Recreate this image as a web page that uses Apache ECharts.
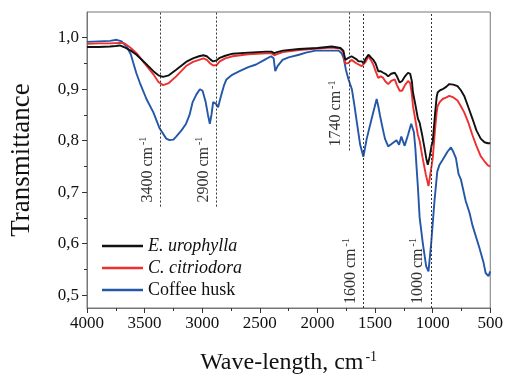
<!DOCTYPE html>
<html>
<head>
<meta charset="utf-8">
<script src="https://cdn.jsdelivr.net/npm/echarts@6/dist/echarts.min.js"></script>
<style>html,body{margin:0;padding:0;background:#fff}#c{width:506px;height:380px}</style>
</head>
<body>
<div id="c"></div>
<script>
const seriesNames = ['E. urophylla', 'C. citriodora', 'Coffee husk'];
const xTicks = [4000, 3500, 3000, 2500, 2000, 1500, 1000, 500];
const yTickLabels = [0.5, 0.6, 0.7, 0.8, 0.9, 1.0];
const yMinorTicks = [0.55, 0.65, 0.75, 0.85, 0.95];

const eUrophylla = [[4000,0.982],[3900,0.982],[3800,0.983],[3750,0.984],[3716,0.985],[3680,0.982],[3620,0.975],[3570,0.967],[3500,0.952],[3424,0.935],[3380,0.927],[3340,0.924],[3290,0.927],[3226,0.938],[3140,0.953],[3080,0.960],[3028,0.964],[2990,0.966],[2960,0.964],[2930,0.958],[2905,0.954],[2875,0.956],[2848,0.961],[2800,0.965],[2736,0.969],[2600,0.971],[2446,0.973],[2400,0.973],[2375,0.970],[2350,0.972],[2300,0.975],[2160,0.978],[2000,0.980],[1876,0.983],[1800,0.980],[1775,0.975],[1758,0.957],[1730,0.961],[1704,0.964],[1687,0.965],[1660,0.958],[1644,0.954],[1615,0.954],[1600,0.950],[1585,0.958],[1558,0.967],[1540,0.963],[1515,0.957],[1495,0.950],[1472,0.935],[1450,0.935],[1429,0.932],[1410,0.930],[1386,0.925],[1360,0.930],[1329,0.932],[1310,0.925],[1286,0.913],[1265,0.916],[1240,0.925],[1214,0.932],[1195,0.930],[1180,0.915],[1171,0.894],[1150,0.870],[1128,0.843],[1113,0.835],[1090,0.810],[1070,0.785],[1055,0.765],[1042,0.753],[1025,0.770],[1010,0.790],[999,0.799],[980,0.850],[965,0.885],[956,0.894],[935,0.898],[913,0.900],[880,0.905],[856,0.910],[820,0.909],[784,0.906],[755,0.898],[726,0.887],[690,0.865],[655,0.843],[620,0.820],[583,0.804],[550,0.797],[520,0.795],[500,0.795]];

const cCitriodora = [[4000,0.988],[3900,0.989],[3800,0.989],[3720,0.990],[3673,0.989],[3620,0.980],[3570,0.970],[3500,0.950],[3424,0.929],[3380,0.914],[3340,0.908],[3290,0.912],[3226,0.925],[3140,0.945],[3080,0.953],[3028,0.957],[2990,0.960],[2960,0.957],[2930,0.950],[2905,0.946],[2875,0.947],[2848,0.954],[2800,0.960],[2736,0.964],[2600,0.968],[2446,0.970],[2400,0.970],[2375,0.966],[2350,0.968],[2300,0.972],[2160,0.976],[2000,0.979],[1876,0.981],[1800,0.979],[1775,0.972],[1758,0.950],[1730,0.951],[1704,0.957],[1687,0.959],[1660,0.950],[1615,0.945],[1600,0.942],[1585,0.952],[1558,0.964],[1540,0.958],[1515,0.948],[1495,0.935],[1472,0.922],[1450,0.925],[1429,0.922],[1410,0.915],[1386,0.910],[1360,0.916],[1329,0.919],[1310,0.908],[1286,0.897],[1265,0.897],[1240,0.908],[1214,0.916],[1195,0.912],[1180,0.890],[1171,0.868],[1150,0.840],[1128,0.811],[1113,0.800],[1090,0.770],[1060,0.735],[1036,0.712],[1020,0.735],[999,0.766],[980,0.820],[965,0.855],[956,0.868],[935,0.876],[913,0.881],[880,0.884],[856,0.887],[820,0.884],[784,0.878],[755,0.867],[726,0.855],[690,0.835],[655,0.811],[620,0.790],[583,0.770],[550,0.760],[520,0.752],[500,0.750]];

const coffeeHusk = [[4000,0.992],[3900,0.993],[3800,0.994],[3742,0.996],[3700,0.993],[3656,0.983],[3620,0.968],[3598,0.951],[3570,0.930],[3542,0.913],[3484,0.881],[3424,0.855],[3370,0.824],[3312,0.804],[3284,0.801],[3250,0.802],[3226,0.808],[3180,0.820],[3140,0.833],[3110,0.850],[3083,0.875],[3050,0.890],[3020,0.900],[2997,0.897],[2970,0.875],[2950,0.850],[2934,0.833],[2920,0.850],[2905,0.875],[2882,0.872],[2862,0.865],[2845,0.880],[2833,0.890],[2810,0.908],[2790,0.919],[2740,0.928],[2676,0.935],[2600,0.943],[2532,0.948],[2460,0.957],[2403,0.964],[2380,0.960],[2366,0.935],[2346,0.945],[2303,0.957],[2250,0.962],[2160,0.967],[2100,0.971],[2016,0.975],[1900,0.975],[1816,0.975],[1790,0.970],[1773,0.961],[1753,0.938],[1730,0.919],[1701,0.900],[1680,0.870],[1658,0.836],[1629,0.792],[1601,0.769],[1572,0.804],[1529,0.843],[1486,0.881],[1470,0.865],[1457,0.849],[1430,0.820],[1414,0.804],[1386,0.789],[1360,0.793],[1343,0.792],[1314,0.801],[1291,0.792],[1272,0.808],[1243,0.790],[1214,0.811],[1186,0.833],[1163,0.817],[1150,0.785],[1140,0.750],[1128,0.710],[1113,0.651],[1085,0.600],[1056,0.556],[1036,0.546],[1013,0.600],[984,0.683],[960,0.740],[941,0.753],[913,0.763],[870,0.779],[841,0.787],[820,0.778],[798,0.766],[775,0.735],[755,0.725],[713,0.683],[680,0.660],[655,0.636],[597,0.594],[560,0.565],[540,0.543],[515,0.537],[500,0.546]];

const annotWave = [3360, 2876, 1727, 1601, 1016];
const annotText = ['3400', '2900', '1740', '1600', '1000'];
const annotBottom = [0.672, 0.672, 0.781, 0.475, 0.475];

const colors = ['#111111', '#ee3030', '#2457a8'];
const FONT = '"Liberation Serif", "Times New Roman", serif';

const chart = echarts.init(document.getElementById('c'), null, {renderer: 'canvas'});

const markData = annotWave.map((w, i) => [
  {coord: [w, annotBottom[i]], label: {formatter: '{a|' + annotText[i] + ' cm}{s|-1}'}},
  {coord: [w, 1.05]}
]);

const series = [eUrophylla, cCitriodora, coffeeHusk].map((d, i) => ({
  name: seriesNames[i],
  type: 'line',
  data: d,
  showSymbol: false,
  symbol: 'none',
  lineStyle: {color: colors[i], width: 1.9},
  itemStyle: {color: colors[i]},
  z: 3 - i,
  animation: false
}));
series[2].markLine = {
  silent: true,
  symbol: 'none',
  animation: false,
  lineStyle: {type: [2, 2], color: '#333', width: 1},
  label: {
    show: true,
    position: 'insideStartTop',
    distance: 4,
    color: '#333',
    fontFamily: FONT,
    rich: {
      a: {fontSize: 16, fontFamily: FONT, color: '#333'},
      s: {fontSize: 10, fontFamily: FONT, color: '#333', verticalAlign: 'top', padding: [0,0,8,2]}
    }
  },
  data: markData
};

chart.setOption({
  animation: false,
  grid: {left: 86, right: 13, top: 12, bottom: 67, show: true, borderColor: '#777', borderWidth: 1},
  legend: {
    orient: 'vertical',
    left: 97,
    top: 232,
    itemWidth: 41,
    itemHeight: 2.5,
    itemGap: 4,
    icon: 'rect',
    data: seriesNames,
    textStyle: {fontFamily: FONT, fontSize: 18, color: '#111',
      rich: {i: {fontStyle: 'italic', fontFamily: FONT, fontSize: 18, color: '#111'}}},
    formatter: n => n === 'Coffee husk' ? n : '{i|' + n + '}'
  },
  xAxis: {
    type: 'value',
    inverse: true,
    min: 500, max: 4000, interval: 500,
    axisLine: {show: true, lineStyle: {color: '#777', width: 1}},
    axisTick: {show: true, length: 5, lineStyle: {color: '#333'}},
    minorTick: {show: true, splitNumber: 2, length: 3, lineStyle: {color: '#333'}},
    splitLine: {show: false},
    axisLabel: {fontFamily: FONT, fontSize: 17, color: '#111', margin: 7,
      formatter: v => xTicks.includes(v) ? String(v) : ''},
    name: '{a|Wave-length, cm}{s|-1}',
    nameLocation: 'middle',
    nameGap: 42,
    nameTextStyle: {rich: {
      a: {fontFamily: FONT, fontSize: 24, color: '#111'},
      s: {fontFamily: FONT, fontSize: 14, color: '#111', verticalAlign: 'top', padding: [0,0,12,2]}
    }}
  },
  yAxis: [{
    type: 'value',
    min: 0.475, max: 1.05,
    axisLine: {show: true, lineStyle: {color: '#777', width: 1}},
    axisTick: {show: true, length: 5, customValues: yTickLabels, lineStyle: {color: '#333'}},
    splitLine: {show: false},
    axisLabel: {fontFamily: FONT, fontSize: 17, color: '#111', margin: 8, customValues: yTickLabels,
      formatter: v => v.toFixed(1).replace('.', ',')},
    name: 'Transmittance',
    nameLocation: 'middle',
    nameRotate: 90,
    nameGap: 52,
    nameTextStyle: {fontFamily: FONT, fontSize: 27, color: '#111'}
  }, {
    type: 'value',
    min: 0.475, max: 1.05,
    position: 'left',
    axisLine: {show: false},
    axisTick: {show: true, length: 3, customValues: yMinorTicks, lineStyle: {color: '#333'}},
    axisLabel: {show: false},
    splitLine: {show: false}
  }],
  series: series
});
</script>
</body>
</html>
